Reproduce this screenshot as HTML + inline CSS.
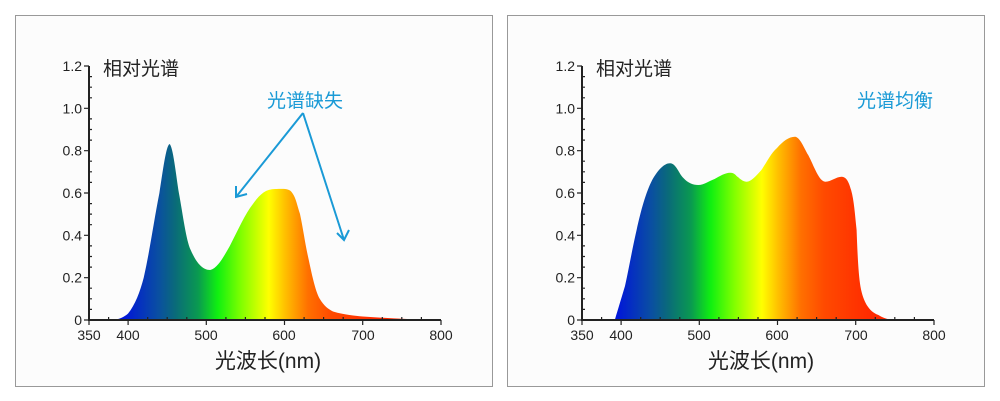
<!DOCTYPE html>
<html><head><meta charset="utf-8"><style>
html,body{margin:0;padding:0;background:#fff;}
svg{display:block;}
text{font-family:"Liberation Sans","Noto Sans CJK SC",sans-serif;}
</style></head><body>
<svg width="1000" height="401" viewBox="0 0 1000 401" xmlns="http://www.w3.org/2000/svg">
<defs>
<linearGradient id="sp" gradientUnits="userSpaceOnUse" x1="89" y1="0" x2="441" y2="0">
<stop offset="0.088" stop-color="#0010e0"/>
<stop offset="0.199" stop-color="#0a50a0"/>
<stop offset="0.244" stop-color="#0a6a7a"/>
<stop offset="0.310" stop-color="#0a9a50"/>
<stop offset="0.366" stop-color="#10f010"/>
<stop offset="0.432" stop-color="#80ff00"/>
<stop offset="0.511" stop-color="#ffff00"/>
<stop offset="0.557" stop-color="#ffc000"/>
<stop offset="0.622" stop-color="#ff7000"/>
<stop offset="0.688" stop-color="#ff4a00"/>
<stop offset="0.82" stop-color="#ff2a00"/>
</linearGradient>
<g id="axes">
<path d="M89 66V320H441" fill="none" stroke="#222" stroke-width="2"/>
<g stroke="#222" stroke-width="1.2">
<path d="M84 320h5M84 277.7h5M84 235.3h5M84 193h5M84 150.7h5M84 108.3h5M84 66h5"/>
<path d="M89 309.4h3M89 298.8h3M89 288.2h3M89 267.1h3M89 256.5h3M89 245.9h3M89 224.7h3M89 214.1h3M89 203.6h3M89 182.4h3M89 171.8h3M89 161.2h3M89 140.1h3M89 129.5h3M89 118.9h3M89 97.8h3M89 87.2h3M89 76.6h3"/>
<path d="M89 320v5M128.1 320v5M206.3 320v5M284.5 320v5M362.7 320v5M441 320v5"/>
<path d="M108.6 320v-3M147.7 320v-3M167.2 320v-3M186.8 320v-3M225.9 320v-3M245.4 320v-3M265 320v-3M304.1 320v-3M323.6 320v-3M343.2 320v-3M382.3 320v-3M401.8 320v-3M421.4 320v-3"/>
</g>
<g font-size="14" fill="#222" text-anchor="end">
<text x="82" y="325">0</text><text x="82" y="282.7">0.2</text><text x="82" y="240.3">0.4</text><text x="82" y="198">0.6</text><text x="82" y="155.7">0.8</text><text x="82" y="113.3">1.0</text><text x="82" y="71">1.2</text>
</g>
<g font-size="14" fill="#222" text-anchor="middle">
<text x="89" y="340">350</text><text x="128" y="340">400</text><text x="206" y="340">500</text><text x="284" y="340">600</text><text x="363" y="340">700</text><text x="441" y="340">800</text>
</g>
<text x="103" y="75" font-size="19" fill="#222">相对光谱</text>
<text x="268" y="368" font-size="21" fill="#222" text-anchor="middle">光波长(nm)</text>
</g>
</defs>
<rect x="15.5" y="15.5" width="477" height="371" fill="#fcfcfc" stroke="#999"/>
<rect x="507.5" y="15.5" width="477" height="371" fill="#fcfcfc" stroke="#999"/>

<path fill="url(#sp)" d="M113 320 C120 319 124 317 128 313.6 C135 305 140 292 143.7 277.7 C150 250 154 220 159.4 193 C163 170 166 146 169.5 144 C173 146 176 175 178.9 193 C183 215 186 240 190.7 250 C196 262 202 270 210.2 270 C218 268 224 256 229.8 246 C238 230 245 214 253.2 203.6 C260 194 266 189 275 189 C284 189 289 188 292.3 193 C296 198 297 205 300 214 C303 228 305 243 308 256.5 C312 275 315 290 319.7 298.8 C324 306 328 309 333 311.5 C345 315 355 315.8 362.7 316.5 C385 318 410 319.5 433 320 Z"/>
<use href="#axes"/>
<text x="305" y="107" font-size="19" fill="#1a9ad6" text-anchor="middle">光谱缺失</text>
<g stroke="#1a9ad6" stroke-width="2" fill="none">
<path d="M303 113L236 197M303 113L344 240"/>
<path d="M236 186L236 197L247 194"/>
<path d="M337 233L344 240L349 230"/>
</g>

<g transform="translate(493,0)">
<path fill="url(#sp)" d="M121.8 320 C126 306 129 296 132 286 C136 268 139 250 143.6 230 C148 210 153 192 159.2 180 C165 170 171 163.3 177.1 163.3 C183 163.3 186 174 190.4 178 C195 183 200 185 205.2 185 C211 185 216 181 221.6 179 C227 176 232 172.7 237.2 172.7 C242 172.7 243 176 245 177 C248 180 251 181.7 253.6 181.7 C258 181.7 263 176 268.4 170 C274 162 278 153 284 148 C290 141 296 136.7 302 136.7 C307 137 311 148 315.2 155 C321 166 326 181.7 332.4 181.7 C338 181.7 343 176.7 348.7 176.7 C354 177 356 183 358.1 190 C361 200 362 215 363.6 230 C364.5 255 365.5 275 367.5 286.7 C369 295 371 300 373.7 305 C377 310 380 313 385.4 315 C390 318 395 319.5 400.2 320 Z"/>
<use href="#axes"/>
<text x="895" y="107" font-size="19" fill="#1a9ad6" text-anchor="middle" transform="translate(-493,0)">光谱均衡</text>
</g>
</svg>
</body></html>
